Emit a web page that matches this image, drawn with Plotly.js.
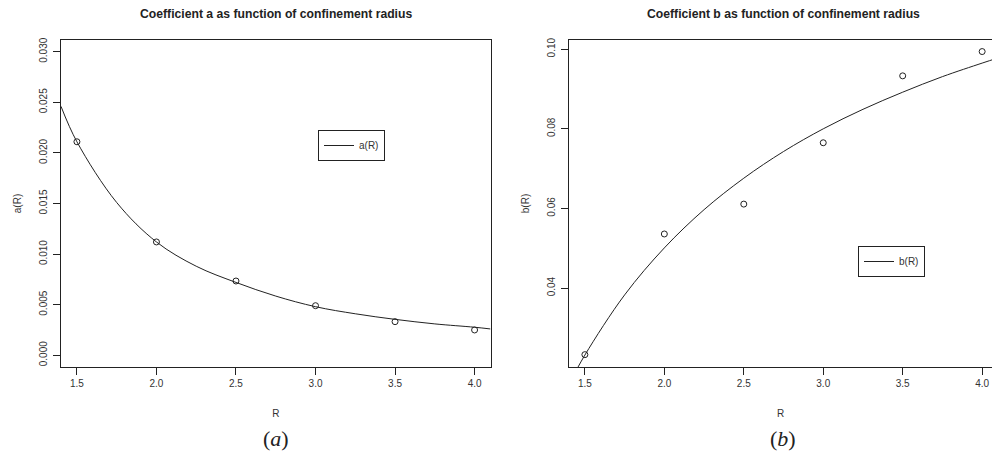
<!DOCTYPE html>
<html>
<head>
<meta charset="utf-8">
<script src="https://cdn.plot.ly/plotly-3.0.1.min.js"></script>
<style>html,body{margin:0;padding:0;background:#fff;}#chart{width:992px;height:453px;}</style>
</head>
<body>
<div id="chart"></div>
<script>
// Observed data points
const R_pts = [1.5, 2.0, 2.5, 3.0, 3.5, 4.0];
const a_pts = [0.0211, 0.0112, 0.00734, 0.0049, 0.00332, 0.0025];
const b_pts = [0.0233, 0.0536, 0.0611, 0.0765, 0.0933, 0.0994];

// Fitted curves
const R_curve = [1.4, 1.5, 1.75, 2.0, 2.25, 2.5, 2.75, 3.0, 3.25, 3.5, 3.75, 4.0, 4.1];
const a_curve = [0.0246, 0.0211, 0.0151, 0.0112, 0.0088, 0.0072, 0.00585, 0.0048, 0.0041, 0.00355, 0.0031, 0.00277, 0.0026];
const b_curve = [0.0159, 0.0232, 0.0383, 0.0501, 0.0597, 0.0676, 0.0743, 0.0800, 0.0849, 0.0892, 0.0931, 0.0965, 0.0978];

const titles = ["Coefficient a as function of confinement radius", "Coefficient b as function of confinement radius"];
const xTicks = [1.5, 2.0, 2.5, 3.0, 3.5, 4.0];
const aTicks = [0.000, 0.005, 0.010, 0.015, 0.020, 0.025, 0.030];
const bTicks = [0.04, 0.06, 0.08, 0.10];

const FONT = '"Liberation Sans", Arial, Helvetica, sans-serif';
const INK = '#222';

const traces = [
  {x: R_curve, y: a_curve, xaxis: 'x', yaxis: 'y', mode: 'lines', name: 'a(R)',
   line: {color: INK, width: 1, shape: 'spline'}, legend: 'legend', showlegend: true},
  {x: R_pts, y: a_pts, xaxis: 'x', yaxis: 'y', mode: 'markers', showlegend: false,
   marker: {symbol: 'circle-open', size: 6, color: INK, line: {width: 1, color: INK}}},
  {x: R_curve, y: b_curve, xaxis: 'x2', yaxis: 'y2', mode: 'lines', name: 'b(R)',
   line: {color: INK, width: 1, shape: 'spline'}, legend: 'legend2', showlegend: true},
  {x: R_pts, y: b_pts, xaxis: 'x2', yaxis: 'y2', mode: 'markers', showlegend: false,
   marker: {symbol: 'circle-open', size: 6, color: INK, line: {width: 1, color: INK}}}
];

const W = 992, H = 453;
const yDom = [(H - 367) / H, (H - 40) / H];

function xAxis(domain, range, anchor) {
  return {
    domain: domain, range: range, anchor: anchor,
    tickmode: 'array', tickvals: xTicks, ticktext: xTicks.map(v => v.toFixed(1)),
    ticks: 'outside', ticklen: 7, tickwidth: 1, tickcolor: INK,
    showline: true, linecolor: INK, linewidth: 1, mirror: true,
    showgrid: false, zeroline: false,
    tickfont: {family: FONT, size: 10, color: '#333'},
    title: {text: 'R', font: {family: FONT, size: 10, color: '#333'}, standoff: 21}
  };
}
function yAxis(domain, range, anchor, ticks, dec, label, mirror) {
  return {
    domain: domain, range: range, anchor: anchor,
    tickmode: 'array', tickvals: ticks, ticktext: ticks.map(v => v.toFixed(dec)),
    ticks: 'outside', ticklen: 7, tickwidth: 1, tickcolor: INK, tickangle: -90,
    ticklabelstandoff: 2,
    showline: true, linecolor: INK, linewidth: 1, mirror: mirror,
    showgrid: false, zeroline: false,
    tickfont: {family: FONT, size: 10, color: '#333'},
    title: {text: label, font: {family: FONT, size: 10, color: '#333'}, standoff: 14}
  };
}

const layout = {
  width: W, height: H,
  margin: {l: 0, r: 0, t: 0, b: 0},
  paper_bgcolor: '#fff', plot_bgcolor: '#fff',
  font: {family: FONT, color: INK},
  xaxis: xAxis([61 / W, 490.5 / W], [1.4, 4.1], 'y'),
  yaxis: yAxis(yDom, [-0.00116, 0.03116], 'x', aTicks, 3, 'a(R)', true),
  xaxis2: xAxis([569 / W, 1], [1.4, 4.062], 'y2'),
  yaxis2: yAxis(yDom, [0.0202, 0.1023], 'x2', bTicks, 2, 'b(R)', false),
  legend: {x: 318 / W, y: (H - 130) / H, xanchor: 'left', yanchor: 'top',
           bordercolor: INK, borderwidth: 1, bgcolor: '#fff',
           font: {family: FONT, size: 10, color: '#333'}},
  legend2: {x: 858 / W, y: (H - 246) / H, xanchor: 'left', yanchor: 'top',
            bordercolor: INK, borderwidth: 1, bgcolor: '#fff',
            font: {family: FONT, size: 10, color: '#333'}},
  annotations: [
    {text: '<b>' + titles[0] + '</b>', xref: 'paper', yref: 'paper', x: 275.7 / W, y: (H - 14) / H,
     xanchor: 'center', yanchor: 'middle', showarrow: false, font: {family: FONT, size: 12.2, color: INK}},
    {text: '<b>' + titles[1] + '</b>', xref: 'paper', yref: 'paper', x: 783 / W, y: (H - 14) / H,
     xanchor: 'center', yanchor: 'middle', showarrow: false, font: {family: FONT, size: 12.2, color: INK}},
    {text: '(<i>a</i>)', xref: 'paper', yref: 'paper', x: 275.7 / W, y: (H - 438) / H,
     xanchor: 'center', yanchor: 'middle', showarrow: false, font: {family: '"Liberation Serif", "DejaVu Serif", serif', size: 22, color: INK}},
    {text: '(<i>b</i>)', xref: 'paper', yref: 'paper', x: 783 / W, y: (H - 438) / H,
     xanchor: 'center', yanchor: 'middle', showarrow: false, font: {family: '"Liberation Serif", "DejaVu Serif", serif', size: 22, color: INK}}
  ]
};

Plotly.newPlot('chart', traces, layout, {displayModeBar: false, staticPlot: true});
</script>
</body>
</html>
